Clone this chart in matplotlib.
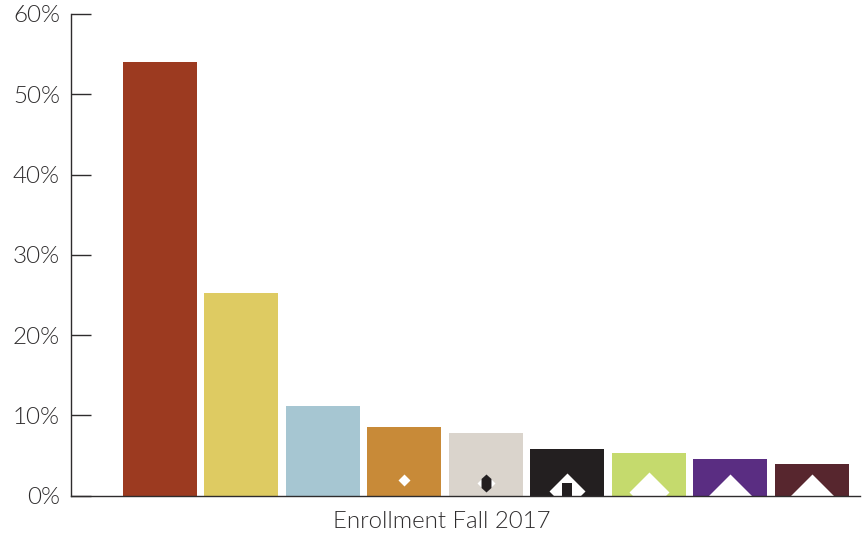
import numpy as np
import matplotlib
matplotlib.use("Agg")
import matplotlib.pyplot as plt

categories = ["A", "B", "C", "D", "E", "F", "G", "H", "I"]
values = [54.0, 25.2, 11.15, 8.5, 7.8, 5.75, 5.3, 4.55, 3.95]
colors = ["#9C3A20", "#DECB62", "#A6C6D2", "#C88A38", "#DAD4CC", "#231F20", "#C5DA6D", "#5A2D82", "#57262E"]
yticks = [0, 10, 20, 30, 40, 50, 60]
ytick_labels = ["0%", "10%", "20%", "30%", "40%", "50%", "60%"]
xlabel = "Enrollment Fall 2017"
# white diamonds near the foot of the bars: (bar index, height in %, marker size)
diamond_bar = [3, 4, 5, 6, 7, 8]
diamond_y = [1.9, 1.6, 0.55, 0.45, 0.0, 0.0]
diamond_ms = [6.5, 9, 18.3, 20.5, 22.9, 22.9]

plt.rcParams["font.family"] = ["Lato", "DejaVu Sans"]
INK = "#2E2C2D"

fig = plt.figure(figsize=(8.67, 5.34), dpi=100)
W, H = 867, 534
ax = fig.add_axes([71 / W, (H - 495.5) / H, (860 - 71) / W, (495.5 - 14) / H])

x = np.arange(len(categories))
ax.bar(x, values, width=0.908, color=colors, linewidth=0, zorder=2)

for i, y, ms in zip(diamond_bar, diamond_y, diamond_ms):
    ax.plot([x[i]], [y], marker="D", ms=ms, mfc="white", mec="none", ls="none", zorder=3)

# dark inner marks on the beige and black bars
tall_hex = [(0, 1), (0.55, 0.5), (0.55, -0.5), (0, -1), (-0.55, -0.5), (-0.55, 0.5), (0, 1)]
ax.plot([x[4]], [1.55], marker=tall_hex, ms=13, mfc="#231F20", mec="none", ls="none", zorder=4)
ax.bar([x[5]], [1.6], width=0.125, color="#231F20", linewidth=0, zorder=4)

ax.set_xlim(-1.087, 8.593)
ax.set_ylim(0, 60)
ax.set_yticks(yticks)
ax.set_yticklabels(ytick_labels, fontsize=17.5, fontweight=300, color=INK)
ax.tick_params(axis="y", direction="in", length=14.4, width=1.0, color=INK, pad=8)
ax.set_xticks([])
ax.set_xlabel(xlabel, fontsize=17.3, fontweight=300, color=INK, va="center")
ax.xaxis.set_label_coords((442 - 71) / (860 - 71), -(522 - 495.5) / (495.5 - 14))

for s in ["top", "right"]:
    ax.spines[s].set_visible(False)
for s in ["left", "bottom"]:
    ax.spines[s].set_color(INK)
    ax.spines[s].set_linewidth(1.0)
    ax.spines[s].set_zorder(5)

fig.savefig("out.png", dpi=100)
